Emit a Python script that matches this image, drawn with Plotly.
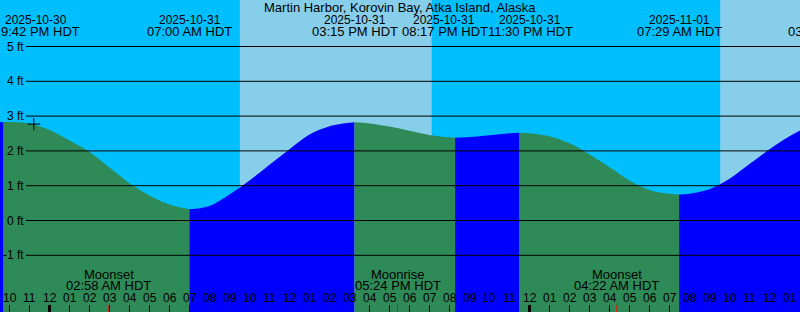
import plotly.graph_objects as go
from datetime import datetime, timedelta

TITLE = "Martin Harbor, Korovin Bay, Atka Island, Alaska"

# Tide curve (height in ft)
tide_times = [
    "2025-10-30 21:31", "2025-10-30 21:42", "2025-10-30 22:00", "2025-10-30 23:00",
    "2025-10-31 00:00", "2025-10-31 01:00", "2025-10-31 02:00", "2025-10-31 03:00",
    "2025-10-31 04:00", "2025-10-31 05:00", "2025-10-31 06:00", "2025-10-31 07:00",
    "2025-10-31 08:00", "2025-10-31 09:00", "2025-10-31 10:00", "2025-10-31 11:00",
    "2025-10-31 12:00", "2025-10-31 13:00", "2025-10-31 14:00", "2025-10-31 15:00",
    "2025-10-31 15:15", "2025-10-31 16:00", "2025-10-31 17:00", "2025-10-31 18:00",
    "2025-10-31 19:00", "2025-10-31 20:00", "2025-10-31 20:17", "2025-10-31 21:00",
    "2025-10-31 22:00", "2025-10-31 23:00", "2025-10-31 23:30", "2025-11-01 00:00",
    "2025-11-01 01:00", "2025-11-01 02:00", "2025-11-01 03:00", "2025-11-01 04:00",
    "2025-11-01 05:00", "2025-11-01 06:00", "2025-11-01 07:00", "2025-11-01 07:29",
    "2025-11-01 08:00", "2025-11-01 09:00", "2025-11-01 10:00", "2025-11-01 11:00",
    "2025-11-01 12:00", "2025-11-01 13:00", "2025-11-01 13:32",
]
tide_heights = [
    2.82, 2.83, 2.83, 2.79,
    2.60, 2.30, 1.97, 1.52,
    1.07, 0.72, 0.46, 0.32,
    0.42, 0.75, 1.15, 1.60,
    2.05, 2.47, 2.71, 2.81,
    2.82, 2.79, 2.70, 2.58,
    2.46, 2.39, 2.38, 2.40,
    2.45, 2.51, 2.52, 2.51,
    2.42, 2.22, 1.90, 1.53,
    1.15, 0.88, 0.77, 0.75,
    0.77, 0.90, 1.20, 1.62,
    2.05, 2.42, 2.59,
]

# High / low tide events
extreme_times = ["2025-10-30 21:42", "2025-10-31 07:00", "2025-10-31 15:15",
                 "2025-10-31 20:17", "2025-10-31 23:30", "2025-11-01 07:29",
                 "2025-11-01 15:03"]
extreme_dates = ["2025-10-30", "2025-10-31", "2025-10-31", "2025-10-31",
                 "2025-10-31", "2025-11-01", "2025-11-01"]
extreme_labels = ["9:42 PM HDT", "07:00 AM HDT", "03:15 PM HDT", "08:17 PM HDT",
                  "11:30 PM HDT", "07:29 AM HDT", "03:03 PM HDT"]

# Sunrise / sunset
sun_times = ["2025-10-31 09:31", "2025-10-31 19:07", "2025-11-01 09:32"]

# Moon events
moon_times = ["2025-10-31 02:58", "2025-10-31 17:24", "2025-11-01 04:22"]
moon_names = ["Moonset", "Moonrise", "Moonset"]
moon_labels = ["02:58 AM HDT", "05:24 PM HDT", "04:22 AM HDT"]

now_time = "2025-10-30 23:13"
now_height = 2.77

y_levels = [-1, 0, 1, 2, 3, 4, 5]

# ---------------------------------------------------------------
W, H = 800, 312
FONT = "Liberation Sans"
FS_NUM = 12     # digit-only texts
FS_TXT = 13     # texts with words
NIGHT = "#00BFFF"
DAY = "#87CEEB"
RISE = "#0000FF"
FALL = "#2E8B57"

def P(s):
    return datetime.strptime(s, "%Y-%m-%d %H:%M")

t0 = datetime(2025, 10, 30, 21, 31, 30)
t1 = t0 + timedelta(hours=40)
Y_TOP = 220.5 / 34.8
Y_BOT = (220.5 - H) / 34.8

def frac(t):
    return (t - t0).total_seconds() / (t1 - t0).total_seconds()

def ypaper(px):
    return 1 - px / H

fig = go.Figure()

# tide fill segments between extremes
tt = [P(s) for s in tide_times]
ext = set(P(s) for s in extreme_times)
cuts = [0] + [i for i, t in enumerate(tt) if t in ext] + [len(tt) - 1]
cuts = sorted(set(cuts))
for a, b in zip(cuts[:-1], cuts[1:]):
    xs = tt[a:b + 1]
    ys = tide_heights[a:b + 1]
    color = RISE if ys[-1] > ys[0] else FALL
    fig.add_trace(go.Scatter(x=[xs[0], xs[-1]], y=[Y_BOT, Y_BOT], mode="lines",
                             line=dict(width=0), hoverinfo="skip", showlegend=False))
    fig.add_trace(go.Scatter(x=xs, y=ys, mode="lines", fill="tonexty",
                             fillcolor=color,
                             line=dict(width=0, shape="spline", smoothing=1.0, color=color),
                             hoverinfo="skip", showlegend=False))

# now marker
fig.add_trace(go.Scatter(x=[P(now_time)], y=[now_height], mode="markers",
                         marker=dict(symbol="cross-thin", size=9,
                                     line=dict(width=1, color="black")),
                         hoverinfo="skip", showlegend=False))

shapes = []
# sky background
bounds = [t0] + [P(s) for s in sun_times] + [t1]
for i, (a, b) in enumerate(zip(bounds[:-1], bounds[1:])):
    shapes.append(dict(type="rect", xref="x", yref="paper", x0=a, x1=b, y0=0, y1=1,
                       fillcolor=NIGHT if i % 2 == 0 else DAY, line=dict(width=0),
                       layer="below"))
# grid lines
for v in y_levels:
    shapes.append(dict(type="line", xref="paper", yref="y", x0=26 / W, x1=1, y0=v, y1=v,
                       line=dict(color="black", width=1), layer="above"))

annotations = []
for v in y_levels:
    annotations.append(dict(xref="paper", yref="y", x=25.5 / W, y=v, text=f"{v} ft",
                            xanchor="right", yanchor="middle", showarrow=False,
                            font=dict(size=FS_NUM)))

# hour ticks and labels
h = datetime(2025, 10, 30, 22, 0)
while h < t1:
    mid = h.hour == 0
    shapes.append(dict(type="line", xref="x", yref="paper", x0=h, x1=h, y0=0, y1=7 / H,
                       line=dict(color="black", width=3 if mid else 1), layer="above"))
    annotations.append(dict(xref="paper", yref="paper", x=frac(h), y=ypaper(297.5),
                            text=h.strftime("%I"), xanchor="center", yanchor="middle",
                            showarrow=False, font=dict(size=FS_NUM)))
    h += timedelta(hours=1)

# moon events
for t, n, l in zip(moon_times, moon_names, moon_labels):
    t = P(t)
    shapes.append(dict(type="line", xref="x", yref="paper", x0=t, x1=t, y0=0, y1=7 / H,
                       line=dict(color="red", width=1), layer="above"))
    annotations.append(dict(xref="paper", yref="paper", x=frac(t), y=ypaper(274.5),
                            text=n, xanchor="center", yanchor="middle", showarrow=False,
                            font=dict(size=FS_TXT)))
    annotations.append(dict(xref="paper", yref="paper", x=frac(t), y=ypaper(285.5),
                            text=l, xanchor="center", yanchor="middle", showarrow=False,
                            font=dict(size=FS_TXT)))

# tide event labels (shifted where they would collide / leave the page)
date_shift = [32.5, 0, 0, -11, 10, 0, 0]
time_shift = [36.5, 0, 0, -10, 10.5, 0, 0]
for t, d, l, ds, ts in zip(extreme_times, extreme_dates, extreme_labels, date_shift, time_shift):
    f = frac(P(t))
    annotations.append(dict(xref="paper", yref="paper", x=f, y=ypaper(19.5), text=d,
                            xanchor="center", yanchor="middle", xshift=ds, showarrow=False,
                            font=dict(size=FS_NUM)))
    annotations.append(dict(xref="paper", yref="paper", x=f, y=ypaper(31.3), text=l,
                            xanchor="center", yanchor="middle", xshift=ts, showarrow=False,
                            font=dict(size=FS_TXT)))

annotations.append(dict(xref="paper", yref="paper", x=0.5, y=ypaper(7.2), text=TITLE,
                        xanchor="center", yanchor="middle", showarrow=False,
                        font=dict(size=FS_TXT)))

fig.update_layout(
    width=W, height=H, margin=dict(l=0, r=0, t=0, b=0),
    paper_bgcolor=NIGHT, plot_bgcolor=NIGHT,
    font=dict(family=FONT, size=FS_NUM, color="black"),
    xaxis=dict(range=[t0, t1], visible=False, showgrid=False, zeroline=False, fixedrange=True),
    yaxis=dict(range=[Y_BOT, Y_TOP], visible=False, showgrid=False, zeroline=False, fixedrange=True),
    shapes=shapes, annotations=annotations, showlegend=False,
)
fig.write_html("out.html", config={"displayModeBar": False})
